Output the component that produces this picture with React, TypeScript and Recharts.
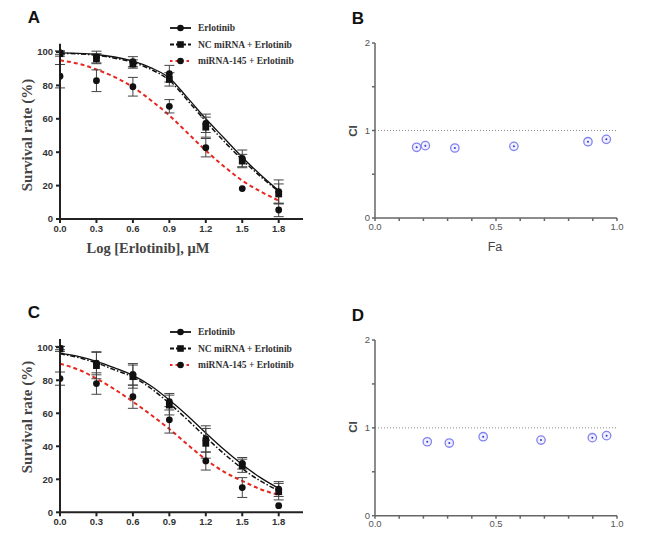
import { ComposedChart, Line, Scatter, ErrorBar, XAxis, YAxis, ReferenceLine } from 'recharts';

// dose points (log µM) and the x positions where the fitted curves were read
const doseLog = [0, 0.3, 0.6, 0.9, 1.2, 1.5, 1.8];
const fitLog = [0, 0.15, 0.3, 0.45, 0.6, 0.75, 0.9, 1.05, 1.2, 1.35, 1.5, 1.65, 1.8];
const survivalTicks = [0, 20, 40, 60, 80, 100];
const seriesNames = ['Erlotinib', 'NC miRNA + Erlotinib', 'miRNA-145 + Erlotinib'];

// panel A
const aErlotinib = [99.6, 97, 94.2, 87, 57.3, 36.3, 16.4];
const aErlotinibSd = [1, 3.5, 3, 5, 5.5, 5, 7];
const aNc = [99, 96, 92.8, 83.6, 55, 34.7, 15];
const aNcSd = [1.5, 3, 2.5, 4, 6, 4, 6];
const aMir = [85.5, 82.8, 79.2, 67.5, 42.7, 18.2, 5.4];
const aMirSd = [7, 6.5, 5.6, 4, 5.5, 0, 4];
const aFitErlotinib = [99.5, 99.2, 98.5, 97, 94.5, 90.5, 84.5, 72.5, 60, 48.5, 37, 26.5, 17];
const aFitNc = [99.2, 98.9, 98, 96.3, 93.8, 89.5, 83, 71, 58.5, 46.5, 35.5, 25.5, 16.5];
const aFitMir = [95, 93, 89.5, 85, 79, 71, 62, 51.5, 41, 31.5, 23, 16.5, 11];

// panel C
const cErlotinib = [99.5, 90.3, 83.6, 67, 44.4, 29.7, 14.1];
const cErlotinibSd = [1, 7, 6.5, 5, 8, 3.5, 4.5];
const cNc = [99, 88.9, 82.2, 65, 41.8, 28.2, 12.5];
const cNcSd = [1.5, 8, 7, 6, 9, 4, 5];
const cMir = [81, 78, 70, 56, 31.1, 15, 4];
const cMirSd = [4, 6.5, 7, 8, 5.5, 6, 0];
const cFitErlotinib = [96.5, 94.5, 91.5, 87.5, 83, 76.5, 68, 58.5, 48, 38, 29, 21, 14.5];
const cFitNc = [96, 93.8, 90.5, 86.3, 82, 75, 66, 56, 45.5, 35.5, 26.5, 19, 13];
const cFitMir = [90, 86.5, 81, 74.5, 67, 59, 50.5, 41, 32, 24.5, 19, 14, 10.5];

// combination index panels B and D
const faTicks = [0, 0.1, 0.2, 0.3, 0.4, 0.5, 0.6, 0.7, 0.8, 0.9, 1];
const ciTicks = [0, 0.5, 1, 1.5, 2];
const bFa = [0.172, 0.208, 0.33, 0.574, 0.88, 0.956];
const bCi = [0.808, 0.827, 0.8, 0.819, 0.872, 0.899];
const dFa = [0.216, 0.307, 0.447, 0.686, 0.898, 0.957];
const dCi = [0.842, 0.827, 0.899, 0.861, 0.888, 0.911];

const SANS = 'Liberation Sans, Arial, sans-serif';
const SERIF = 'Liberation Serif, Times New Roman, serif';
const RED = '#e8261f';

const toRows = (xs: number[], ys: number[], sd?: number[]) =>
  xs.map((x, i) => ({ x, y: ys[i], sd: sd ? sd[i] : 0 }));

const Dot = (p: any) => <circle cx={p.cx} cy={p.cy} r={3.4} fill="#111" />;
const Square = (p: any) => <rect x={p.cx - 3.4} y={p.cy - 3.4} width={6.8} height={6.8} fill="#111" />;
const Ring = (p: any) => (
  <g>
    <circle cx={p.cx} cy={p.cy} r={4.2} fill="#f0f0ff" stroke="#8383ef" strokeWidth={1.3} />
    <circle cx={p.cx} cy={p.cy} r={1} fill="#3a3ac8" />
  </g>
);

function Legend({ top }: { top: number }) {
  const rows = [
    { dash: undefined, color: '#111', marker: 'dot' },
    { dash: '4 2', color: '#111', marker: 'square' },
    { dash: '2.5 3', color: RED, marker: 'dot' },
  ];
  return (
    <svg width={340} height={50} style={{ position: 'absolute', left: 0, top: top - 8 }}>
      {rows.map((r, i) => {
        const y = 8 + i * 16.5;
        return (
          <g key={i}>
            <line x1={170} x2={191} y1={y} y2={y} stroke={r.color} strokeWidth={1.8} strokeDasharray={r.dash} />
            {r.marker === 'dot' ? (
              <circle cx={180.5} cy={y} r={3.3} fill="#111" />
            ) : (
              <rect x={177.2} y={y - 3.3} width={6.6} height={6.6} fill="#111" />
            )}
            <text x={198} y={y} dominantBaseline="central" fontFamily={SERIF} fontWeight="bold" fontSize={9.5} fill="#333">
              {seriesNames[i]}
            </text>
          </g>
        );
      })}
    </svg>
  );
}

function SurvivalPanel(props: any) {
  const { top, height, marginTop, axisHeight, erl, erlSd, nc, ncSd, mir, mirSd, fitErl, fitNc, fitMir } = props;
  const axis = { stroke: '#222', strokeWidth: 2 };
  const tick = { fill: '#333', fontSize: 9.5, fontWeight: 'bold', fontFamily: SANS };
  return (
    <div style={{ position: 'absolute', left: 0, top }}>
      <ComposedChart width={340} height={height} margin={{ top: marginTop, right: 37, bottom: 0, left: 0 }}>
        <XAxis
          type="number"
          dataKey="x"
          domain={[0, 2]}
          ticks={doseLog}
          tickFormatter={(v: number) => v.toFixed(1)}
          axisLine={axis}
          tickLine={axis}
          tickSize={4}
          tick={tick}
          height={axisHeight}
          allowDataOverflow
        />
        <YAxis
          type="number"
          dataKey="y"
          domain={[0, 105]}
          ticks={survivalTicks}
          axisLine={axis}
          tickLine={axis}
          tickSize={4}
          tickMargin={3}
          tick={tick}
          width={60}
          allowDataOverflow
        />
        <Line data={toRows(fitLog, fitErl)} dataKey="y" type="monotone" stroke="#111" strokeWidth={1.3} dot={false} isAnimationActive={false} />
        <Line data={toRows(fitLog, fitNc)} dataKey="y" type="monotone" stroke="#111" strokeWidth={1.5} strokeDasharray="5 2 1.5 2" dot={false} isAnimationActive={false} />
        <Line data={toRows(fitLog, fitMir)} dataKey="y" type="monotone" stroke={RED} strokeWidth={2} strokeDasharray="4 3" dot={false} isAnimationActive={false} />
        <Scatter data={toRows(doseLog, mir, mirSd)} dataKey="y" shape={Dot} isAnimationActive={false}>
          <ErrorBar dataKey="sd" direction="y" width={5} stroke="#444" strokeWidth={1} />
        </Scatter>
        <Scatter data={toRows(doseLog, nc, ncSd)} dataKey="y" shape={Square} isAnimationActive={false}>
          <ErrorBar dataKey="sd" direction="y" width={5} stroke="#444" strokeWidth={1} />
        </Scatter>
        <Scatter data={toRows(doseLog, erl, erlSd)} dataKey="y" shape={Dot} isAnimationActive={false}>
          <ErrorBar dataKey="sd" direction="y" width={5} stroke="#444" strokeWidth={1} />
        </Scatter>
      </ComposedChart>
    </div>
  );
}

function CiPanel({ top, height, marginTop, axisHeight, fa, ci }: any) {
  const axis = { stroke: '#666', strokeWidth: 1.5 };
  const tick = { fill: '#555', fontSize: 9.5, fontFamily: SANS };
  return (
    <div style={{ position: 'absolute', left: 340, top }}>
      <ComposedChart width={329} height={height} margin={{ top: marginTop, right: 52, bottom: 0, left: 0 }}>
        <XAxis
          type="number"
          dataKey="x"
          domain={[0, 1]}
          ticks={faTicks}
          interval={0}
          tickFormatter={(v: number) => (v === 0 || v === 0.5 || v === 1 ? v.toFixed(1) : '')}
          axisLine={axis}
          tickLine={axis}
          tickSize={3}
          tick={tick}
          height={axisHeight}
        />
        <YAxis
          type="number"
          dataKey="y"
          domain={[0, 2]}
          ticks={ciTicks}
          interval={0}
          tickFormatter={(v: number) => (Number.isInteger(v) ? String(v) : '')}
          axisLine={axis}
          tickLine={axis}
          tickSize={3}
          tickMargin={2}
          tick={tick}
          width={35}
        />
        <ReferenceLine y={1} stroke="#888" strokeWidth={1} strokeDasharray="1 2" />
        <Scatter data={toRows(fa, ci)} dataKey="y" shape={Ring} isAnimationActive={false} />
      </ComposedChart>
    </div>
  );
}

export default function App() {
  return (
    <div style={{ position: 'absolute', left: 0, top: 0, width: 669, height: 535, background: '#fff', overflow: 'hidden' }}>
      <SurvivalPanel
        top={0}
        height={260}
        marginTop={43.65}
        axisHeight={41}
        erl={aErlotinib}
        erlSd={aErlotinibSd}
        nc={aNc}
        ncSd={aNcSd}
        mir={aMir}
        mirSd={aMirSd}
        fitErl={aFitErlotinib}
        fitNc={aFitNc}
        fitMir={aFitMir}
      />
      <SurvivalPanel
        top={260}
        height={275}
        marginTop={79}
        axisHeight={22.7}
        erl={cErlotinib}
        erlSd={cErlotinibSd}
        nc={cNc}
        ncSd={cNcSd}
        mir={cMir}
        mirSd={cMirSd}
        fitErl={cFitErlotinib}
        fitNc={cFitNc}
        fitMir={cFitMir}
      />
      <CiPanel top={0} height={260} marginTop={43} axisHeight={42} fa={bFa} ci={bCi} />
      <CiPanel top={260} height={275} marginTop={80} axisHeight={19.3} fa={dFa} ci={dCi} />
      <Legend top={28} />
      <Legend top={332} />

      {/* panel letters and axis titles */}
      <svg width={669} height={535} style={{ position: 'absolute', left: 0, top: 0, pointerEvents: 'none' }}>
        <g fontFamily={SANS} fontWeight="bold" fontSize={17} fill="#111" textAnchor="middle" dominantBaseline="central">
          <text x={34} y={17}>A</text>
          <text x={358} y={18}>B</text>
          <text x={34} y={312}>C</text>
          <text x={358} y={315}>D</text>
        </g>
        <g fontFamily={SERIF} fontWeight="bold" fontSize={15} fill="#444" textAnchor="middle" dominantBaseline="central">
          <text transform="translate(27,135) rotate(-90)">Survival rate (%)</text>
          <text transform="translate(27,417) rotate(-90)">Survival rate (%)</text>
          <text x={148} y={248} fontSize={14.5}>Log [Erlotinib], μM</text>
        </g>
        <g fontFamily={SANS} fill="#444" textAnchor="middle" dominantBaseline="central">
          <text transform="translate(353,131) rotate(-90)" fontSize={11.5} fontWeight="bold">CI</text>
          <text transform="translate(353,427) rotate(-90)" fontSize={11.5} fontWeight="bold">CI</text>
          <text x={495} y={247} fontSize={12.5}>Fa</text>
        </g>
      </svg>
    </div>
  );
}
